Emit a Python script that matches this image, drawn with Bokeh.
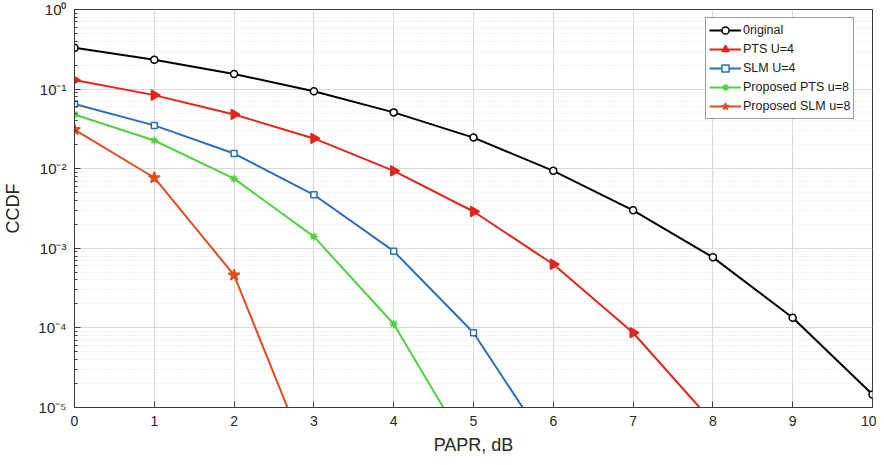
import math
from bokeh.plotting import figure
from bokeh.models import (Range1d, Legend, LegendItem, FixedTicker, LogTicker, ColumnDataSource)
from bokeh.embed import file_html
from bokeh.resources import INLINE

# ---- data ----
papr = [0, 1, 2, 3, 4, 5, 6, 7, 8, 9, 10]
original = [0.33, 0.233, 0.155, 0.094, 0.051, 0.0246, 0.0094, 0.0030, 7.7e-4, 1.34e-4, 1.46e-5]
pts_u4_x = [0, 1, 2, 3, 4, 5, 6, 7, 8]
pts_u4 = [0.13, 0.084, 0.048, 0.024, 0.0094, 0.0029, 6.3e-4, 8.7e-5, 6.5e-6]
slm_u4_x = [0, 1, 2, 3, 4, 5, 6]
slm_u4 = [0.065, 0.035, 0.0155, 0.0047, 9.2e-4, 8.7e-5, 2.6e-6]
prop_pts_x = [0, 1, 2, 3, 4, 5]
prop_pts = [0.048, 0.0226, 0.0075, 0.0014, 1.12e-4, 2.3e-6]
prop_slm_x = [0, 1, 2, 3]
prop_slm = [0.031, 0.0077, 4.6e-4, 1.5e-6]

x_ticks = [0, 1, 2, 3, 4, 5, 6, 7, 8, 9, 10]
y_ticks = [1e-5, 1e-4, 1e-3, 1e-2, 1e-1, 1]
y_tick_labels = ["10\u207b\u2075", "10\u207b\u2074", "10\u207b\u00b3", "10\u207b\u00b2", "10\u207b\u00b9", "10\u2070"]

FONT = "Liberation Sans"
AX = "#3a3a3a"

p = figure(width=876, height=457, output_backend="svg", toolbar_location=None,
           y_axis_type="log", x_range=Range1d(0, 10), y_range=Range1d(1e-5, 1),
           min_border_left=67, min_border_right=4, min_border_top=9, min_border_bottom=50,
           background_fill_color="white", border_fill_color="white")

p.outline_line_color = AX
p.outline_line_width = 1

for ax in (p.xaxis[0], p.yaxis[0]):
    ax.axis_line_color = AX
    ax.major_tick_in = 6
    ax.major_tick_out = 0
    ax.minor_tick_in = 3
    ax.minor_tick_out = 0
    ax.major_tick_line_color = AX
    ax.minor_tick_line_color = AX
    ax.major_label_text_font = FONT
    ax.major_label_text_font_size = "14px"
    ax.major_label_text_color = "#262626"
    ax.axis_label_text_font = FONT
    ax.axis_label_text_font_size = "18px"
    ax.axis_label_text_font_style = "normal"
    ax.axis_label_text_color = "#262626"

p.xaxis.ticker = FixedTicker(ticks=x_ticks)
p.xaxis.minor_tick_line_color = None
p.xaxis.axis_label = "PAPR, dB"
p.xaxis.axis_label_standoff = 6
p.xaxis.major_label_standoff = 8

p.yaxis.ticker = LogTicker(desired_num_ticks=6, num_minor_ticks=10)
p.yaxis.major_label_overrides = {t: l for t, l in zip(y_ticks, y_tick_labels)}
p.yaxis.major_label_text_font_size = "15px"
p.yaxis.axis_label = "CCDF"
p.yaxis.axis_label_standoff = 12
p.yaxis.major_label_standoff = 8

p.xgrid.ticker = FixedTicker(ticks=x_ticks)
p.xgrid.grid_line_color = "#d8d8d8"
p.ygrid.grid_line_color = "#d8d8d8"
p.ygrid.minor_grid_line_color = "#e4e4e4"
p.ygrid.minor_grid_line_dash = "1 2"

series = [
    ("0riginal", papr, original, "black", "circle", 7, "white", 0.0),
    ("PTS U=4", pts_u4_x, pts_u4, "#e3241c", "triangle", 10, "#e3241c", -math.pi / 2),
    ("SLM U=4", slm_u4_x, slm_u4, "#2a6fb8", "square", 6, "white", 0.0),
    ("Proposed PTS u=8", prop_pts_x, prop_pts, "#4fd23f", "asterisk", 8, "#4fd23f", 0.0),
    ("Proposed SLM u=8", prop_slm_x, prop_slm, "#dd4d1f", "star", 12, "#dd4d1f", 0.0),
]

items = []
for name, xs, ys, col, marker, size, fill, ang in series:
    src = ColumnDataSource(dict(x=xs, y=ys, a=[ang] * len(xs)))
    ln = p.line("x", "y", source=src, line_color=col, line_width=2)
    sc = p.scatter("x", "y", source=src, marker=marker, size=size, line_color=col,
                   fill_color=fill, line_width=1.5, angle="a")
    items.append(LegendItem(label=name, renderers=[ln, sc]))

legend = Legend(items=items, location=(631, 288))
legend.label_text_font = FONT
legend.label_text_font_size = "12.5px"
legend.label_text_color = "#1a1a1a"
legend.label_standoff = 2
legend.label_height = 18
legend.glyph_height = 18
legend.glyph_width = 32
legend.spacing = 1
legend.padding = 3
legend.margin = 0
legend.border_line_color = "#333333"
legend.border_line_width = 1
legend.background_fill_color = "white"
legend.background_fill_alpha = 1
p.add_layout(legend, "center")

open("out.html", "w").write(file_html(p, INLINE))
